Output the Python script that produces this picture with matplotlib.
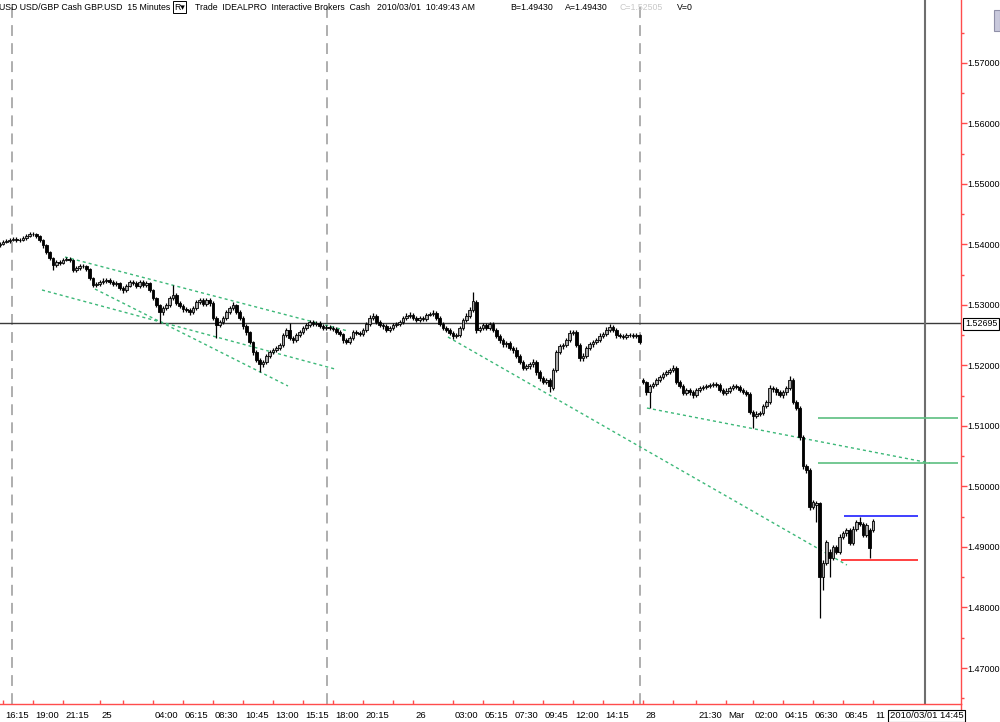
import numpy as np
import matplotlib
matplotlib.use("Agg")
import matplotlib.pyplot as plt
from matplotlib.patches import Rectangle
from matplotlib.lines import Line2D
from matplotlib.ticker import FormatStrFormatter

plt.rcParams['font.family'] = ['Liberation Sans', 'DejaVu Sans']

# GBP.USD 15 minute bars (bar index = position on the time axis)
opens = [
    1.5399, 1.5401, 1.5404, 1.5406, 1.5407, 1.5409, 1.5407, 1.5407, 1.5411, 1.5414,
    1.5417, 1.5417, 1.5414, 1.5407, 1.5399, 1.5387, 1.5378, 1.5366, 1.5371, 1.5369,
    1.5374, 1.5376, 1.5374, 1.5358, 1.5361, 1.5364, 1.5364, 1.5359, 1.5345, 1.5333,
    1.5335, 1.5338, 1.5340, 1.5341, 1.5338, 1.5335, 1.5336, 1.5328, 1.5325, 1.5331,
    1.5338, 1.5336, 1.5331, 1.5338, 1.5333, 1.5336, 1.5325, 1.5312, 1.5300, 1.5288,
    1.5295, 1.5300, 1.5312, 1.5317, 1.5303, 1.5298, 1.5293, 1.5292, 1.5288, 1.5295,
    1.5305, 1.5308, 1.5302, 1.5308, 1.5303, 1.5279, 1.5267, 1.5272, 1.5279, 1.5288,
    1.5295, 1.5300, 1.5288, 1.5279, 1.5265, 1.5255, 1.5239, 1.5222, 1.5209, 1.5202,
    1.5206, 1.5216, 1.5222, 1.5226, 1.5229, 1.5234, 1.5250, 1.5259, 1.5245, 1.5242,
    1.5250, 1.5255, 1.5262, 1.5267, 1.5272, 1.5269, 1.5270, 1.5265, 1.5262, 1.5264,
    1.5262, 1.5260, 1.5255, 1.5252, 1.5242, 1.5239, 1.5245, 1.5255, 1.5254, 1.5252,
    1.5259, 1.5269, 1.5279, 1.5282, 1.5272, 1.5267, 1.5265, 1.5259, 1.5262, 1.5267,
    1.5269, 1.5272, 1.5279, 1.5282, 1.5284, 1.5279, 1.5275, 1.5279, 1.5277, 1.5284,
    1.5285, 1.5287, 1.5279, 1.5269, 1.5262, 1.5259, 1.5254, 1.5249, 1.5250, 1.5262,
    1.5275, 1.5282, 1.5292, 1.5305, 1.5259, 1.5262, 1.5267, 1.5262, 1.5269, 1.5259,
    1.5249, 1.5242, 1.5235, 1.5237, 1.5229, 1.5226, 1.5216, 1.5206, 1.5196, 1.5199,
    1.5202, 1.5206, 1.5189, 1.5179, 1.5173, 1.5176, 1.5163, 1.5193, 1.5222, 1.5232,
    1.5234, 1.5242, 1.5254, 1.5255, 1.5234, 1.5212, 1.5216, 1.5229, 1.5235, 1.5239,
    1.5242, 1.5249, 1.5252, 1.5259, 1.5264, 1.5259, 1.5250, 1.5249, 1.5247, 1.5250,
    1.5250, 1.5249, 1.5250, 1.5176, 1.5173, 1.5156, 1.5166, 1.5169, 1.5176, 1.5181,
    1.5186, 1.5189, 1.5193, 1.5196, 1.5173, 1.5166, 1.5155, 1.5160, 1.5156, 1.5151,
    1.5160, 1.5163, 1.5164, 1.5166, 1.5168, 1.5169, 1.5168, 1.5160, 1.5155, 1.5158,
    1.5163, 1.5166, 1.5164, 1.5160, 1.5156, 1.5153, 1.5123, 1.5117, 1.5120, 1.5121,
    1.5133, 1.5140, 1.5163, 1.5161, 1.5156, 1.5151, 1.5156, 1.5163, 1.5176, 1.5140,
    1.5130, 1.5082, 1.5034, 1.5027, 1.4966, 1.4969, 1.4972, 1.4850, 1.4874, 1.4892,
    1.4882, 1.4900, 1.4892, 1.4917, 1.4923, 1.4928, 1.4907, 1.4930, 1.4941, 1.4938,
    1.4920, 1.4928, 1.4928,
]
highs = [
    1.5404, 1.5407, 1.5409, 1.5410, 1.5413, 1.5412, 1.5410, 1.5414, 1.5417, 1.5421,
    1.5420, 1.5419, 1.5416, 1.5409, 1.5401, 1.5390, 1.5380, 1.5374, 1.5374, 1.5377,
    1.5380, 1.5379, 1.5376, 1.5365, 1.5367, 1.5368, 1.5366, 1.5361, 1.5347, 1.5338,
    1.5341, 1.5344, 1.5345, 1.5344, 1.5341, 1.5339, 1.5338, 1.5331, 1.5334, 1.5342,
    1.5341, 1.5339, 1.5342, 1.5341, 1.5340, 1.5338, 1.5327, 1.5314, 1.5302, 1.5298,
    1.5303, 1.5315, 1.5333, 1.5319, 1.5306, 1.5301, 1.5297, 1.5295, 1.5298, 1.5309,
    1.5312, 1.5311, 1.5312, 1.5311, 1.5306, 1.5281, 1.5275, 1.5282, 1.5291, 1.5298,
    1.5305, 1.5302, 1.5291, 1.5281, 1.5268, 1.5257, 1.5241, 1.5225, 1.5212, 1.5209,
    1.5219, 1.5225, 1.5229, 1.5233, 1.5237, 1.5253, 1.5262, 1.5270, 1.5248, 1.5253,
    1.5258, 1.5265, 1.5270, 1.5275, 1.5276, 1.5274, 1.5273, 1.5268, 1.5267, 1.5267,
    1.5265, 1.5263, 1.5258, 1.5254, 1.5245, 1.5248, 1.5258, 1.5258, 1.5257, 1.5262,
    1.5272, 1.5283, 1.5286, 1.5285, 1.5275, 1.5270, 1.5268, 1.5265, 1.5270, 1.5272,
    1.5275, 1.5282, 1.5286, 1.5288, 1.5287, 1.5282, 1.5282, 1.5282, 1.5287, 1.5289,
    1.5292, 1.5290, 1.5281, 1.5272, 1.5265, 1.5262, 1.5257, 1.5254, 1.5265, 1.5278,
    1.5286, 1.5296, 1.5321, 1.5308, 1.5266, 1.5271, 1.5270, 1.5272, 1.5272, 1.5262,
    1.5252, 1.5245, 1.5241, 1.5240, 1.5233, 1.5230, 1.5219, 1.5209, 1.5203, 1.5206,
    1.5210, 1.5209, 1.5192, 1.5182, 1.5180, 1.5179, 1.5196, 1.5226, 1.5236, 1.5238,
    1.5246, 1.5258, 1.5259, 1.5258, 1.5237, 1.5220, 1.5232, 1.5239, 1.5242, 1.5246,
    1.5253, 1.5256, 1.5263, 1.5269, 1.5267, 1.5262, 1.5253, 1.5252, 1.5253, 1.5253,
    1.5253, 1.5253, 1.5252, 1.5179, 1.5175, 1.5169, 1.5172, 1.5179, 1.5184, 1.5189,
    1.5193, 1.5196, 1.5201, 1.5199, 1.5176, 1.5169, 1.5163, 1.5163, 1.5159, 1.5163,
    1.5166, 1.5168, 1.5170, 1.5171, 1.5173, 1.5172, 1.5171, 1.5163, 1.5162, 1.5166,
    1.5169, 1.5169, 1.5167, 1.5163, 1.5159, 1.5156, 1.5126, 1.5124, 1.5125, 1.5136,
    1.5143, 1.5167, 1.5166, 1.5164, 1.5159, 1.5159, 1.5166, 1.5183, 1.5179, 1.5143,
    1.5133, 1.5085, 1.5037, 1.5030, 1.4978, 1.4976, 1.4975, 1.4878, 1.4912, 1.4896,
    1.4904, 1.4904, 1.4921, 1.4927, 1.4932, 1.4931, 1.4934, 1.4945, 1.4950, 1.4941,
    1.4940, 1.4931, 1.4947,
]
lows = [
    1.5396, 1.5399, 1.5402, 1.5403, 1.5405, 1.5404, 1.5404, 1.5405, 1.5408, 1.5412,
    1.5414, 1.5411, 1.5404, 1.5395, 1.5384, 1.5374, 1.5358, 1.5363, 1.5366, 1.5367,
    1.5372, 1.5371, 1.5354, 1.5355, 1.5358, 1.5361, 1.5356, 1.5341, 1.5329, 1.5330,
    1.5332, 1.5335, 1.5337, 1.5335, 1.5331, 1.5331, 1.5324, 1.5320, 1.5322, 1.5329,
    1.5333, 1.5328, 1.5328, 1.5330, 1.5330, 1.5321, 1.5308, 1.5296, 1.5270, 1.5284,
    1.5291, 1.5297, 1.5309, 1.5300, 1.5295, 1.5289, 1.5288, 1.5284, 1.5285, 1.5292,
    1.5302, 1.5298, 1.5299, 1.5299, 1.5275, 1.5245, 1.5263, 1.5269, 1.5276, 1.5285,
    1.5292, 1.5285, 1.5275, 1.5261, 1.5251, 1.5235, 1.5218, 1.5205, 1.5189, 1.5198,
    1.5203, 1.5212, 1.5219, 1.5222, 1.5226, 1.5231, 1.5247, 1.5242, 1.5238, 1.5239,
    1.5247, 1.5252, 1.5259, 1.5264, 1.5266, 1.5266, 1.5262, 1.5259, 1.5259, 1.5258,
    1.5257, 1.5252, 1.5248, 1.5238, 1.5235, 1.5236, 1.5242, 1.5250, 1.5248, 1.5249,
    1.5256, 1.5266, 1.5276, 1.5269, 1.5263, 1.5261, 1.5256, 1.5256, 1.5259, 1.5264,
    1.5266, 1.5269, 1.5276, 1.5279, 1.5276, 1.5272, 1.5272, 1.5274, 1.5274, 1.5281,
    1.5282, 1.5276, 1.5265, 1.5258, 1.5255, 1.5250, 1.5244, 1.5245, 1.5247, 1.5259,
    1.5272, 1.5279, 1.5289, 1.5254, 1.5255, 1.5258, 1.5258, 1.5259, 1.5256, 1.5245,
    1.5238, 1.5231, 1.5231, 1.5225, 1.5221, 1.5212, 1.5202, 1.5192, 1.5192, 1.5195,
    1.5198, 1.5185, 1.5175, 1.5169, 1.5169, 1.5156, 1.5160, 1.5190, 1.5219, 1.5228,
    1.5230, 1.5239, 1.5250, 1.5230, 1.5208, 1.5208, 1.5213, 1.5226, 1.5231, 1.5236,
    1.5239, 1.5246, 1.5249, 1.5256, 1.5255, 1.5246, 1.5245, 1.5244, 1.5244, 1.5247,
    1.5245, 1.5246, 1.5235, 1.5170, 1.5152, 1.5130, 1.5163, 1.5166, 1.5173, 1.5178,
    1.5183, 1.5186, 1.5190, 1.5169, 1.5162, 1.5151, 1.5152, 1.5152, 1.5147, 1.5148,
    1.5157, 1.5160, 1.5161, 1.5163, 1.5165, 1.5165, 1.5157, 1.5151, 1.5152, 1.5155,
    1.5160, 1.5161, 1.5157, 1.5153, 1.5150, 1.5119, 1.5097, 1.5113, 1.5116, 1.5118,
    1.5130, 1.5137, 1.5157, 1.5152, 1.5148, 1.5147, 1.5152, 1.5160, 1.5136, 1.5126,
    1.5077, 1.5029, 1.5022, 1.4961, 1.4962, 1.4941, 1.4783, 1.4829, 1.4870, 1.4850,
    1.4878, 1.4888, 1.4889, 1.4913, 1.4919, 1.4903, 1.4904, 1.4926, 1.4934, 1.4916,
    1.4916, 1.4882, 1.4925,
]
closes = [
    1.5401, 1.5404, 1.5406, 1.5407, 1.5409, 1.5407, 1.5407, 1.5411, 1.5414, 1.5417,
    1.5417, 1.5414, 1.5407, 1.5399, 1.5387, 1.5378, 1.5366, 1.5371, 1.5369, 1.5374,
    1.5376, 1.5374, 1.5358, 1.5361, 1.5364, 1.5364, 1.5359, 1.5345, 1.5333, 1.5335,
    1.5338, 1.5340, 1.5341, 1.5338, 1.5335, 1.5336, 1.5328, 1.5325, 1.5331, 1.5338,
    1.5336, 1.5331, 1.5338, 1.5333, 1.5336, 1.5325, 1.5312, 1.5300, 1.5288, 1.5295,
    1.5300, 1.5312, 1.5317, 1.5303, 1.5298, 1.5293, 1.5292, 1.5288, 1.5295, 1.5305,
    1.5308, 1.5302, 1.5308, 1.5303, 1.5279, 1.5267, 1.5272, 1.5279, 1.5288, 1.5295,
    1.5300, 1.5288, 1.5279, 1.5265, 1.5255, 1.5239, 1.5222, 1.5209, 1.5202, 1.5206,
    1.5216, 1.5222, 1.5226, 1.5229, 1.5234, 1.5250, 1.5259, 1.5245, 1.5242, 1.5250,
    1.5255, 1.5262, 1.5267, 1.5272, 1.5269, 1.5270, 1.5265, 1.5262, 1.5264, 1.5262,
    1.5260, 1.5255, 1.5252, 1.5242, 1.5239, 1.5245, 1.5255, 1.5254, 1.5252, 1.5259,
    1.5269, 1.5279, 1.5282, 1.5272, 1.5267, 1.5265, 1.5259, 1.5262, 1.5267, 1.5269,
    1.5272, 1.5279, 1.5282, 1.5284, 1.5279, 1.5275, 1.5279, 1.5277, 1.5284, 1.5285,
    1.5287, 1.5279, 1.5269, 1.5262, 1.5259, 1.5254, 1.5249, 1.5250, 1.5262, 1.5275,
    1.5282, 1.5292, 1.5307, 1.5259, 1.5262, 1.5267, 1.5262, 1.5269, 1.5259, 1.5249,
    1.5242, 1.5235, 1.5237, 1.5229, 1.5226, 1.5216, 1.5206, 1.5196, 1.5199, 1.5202,
    1.5206, 1.5189, 1.5179, 1.5173, 1.5176, 1.5166, 1.5193, 1.5222, 1.5232, 1.5234,
    1.5242, 1.5254, 1.5255, 1.5234, 1.5212, 1.5216, 1.5229, 1.5235, 1.5239, 1.5242,
    1.5249, 1.5252, 1.5259, 1.5264, 1.5259, 1.5250, 1.5249, 1.5247, 1.5250, 1.5250,
    1.5249, 1.5250, 1.5239, 1.5173, 1.5156, 1.5166, 1.5169, 1.5176, 1.5181, 1.5186,
    1.5189, 1.5193, 1.5196, 1.5173, 1.5166, 1.5155, 1.5160, 1.5156, 1.5151, 1.5160,
    1.5163, 1.5164, 1.5166, 1.5168, 1.5169, 1.5168, 1.5160, 1.5155, 1.5158, 1.5163,
    1.5166, 1.5164, 1.5160, 1.5156, 1.5153, 1.5123, 1.5117, 1.5120, 1.5121, 1.5133,
    1.5140, 1.5163, 1.5161, 1.5156, 1.5151, 1.5156, 1.5163, 1.5176, 1.5140, 1.5130,
    1.5082, 1.5034, 1.5027, 1.4966, 1.4974, 1.4972, 1.4850, 1.4874, 1.4908, 1.4882,
    1.4900, 1.4892, 1.4917, 1.4923, 1.4928, 1.4907, 1.4930, 1.4941, 1.4938, 1.4920,
    1.4936, 1.4898, 1.4943,
]

# time axis
tick_pos = [1, 10, 19, 30, 37, 46, 55, 64, 73, 82, 91, 100, 109, 118, 124, 136, 145,
            154, 163, 172, 181, 190, 193, 202, 209, 218, 226, 235, 244, 253, 262]
tick_labels = ["16:15", "19:00", "21:15", "25", "", "04:00", "06:15", "08:30", "10:45",
               "13:00", "15:15", "18:00", "20:15", "", "26", "03:00", "05:15", "07:30",
               "09:45", "12:00", "14:15", "", "28", "", "21:30", "Mar", "02:00", "04:15",
               "06:30", "08:45", "11"]
session_breaks = [3.7, 98.2, 192.1]

# drawings on the chart: trend lines (bar index, price)
trend_lines = [
    [(19.6, 1.53793), (104.5, 1.52570)],
    [(12.7, 1.53248), (100.6, 1.51942)],
    [(28.6, 1.53264), (86.5, 1.51661)],
    [(134.5, 1.52471), (254.2, 1.48702)],
    [(194.2, 1.51297), (279.1, 1.50388)],
]
# horizontal levels: price, from bar, to bar, colour
levels = [
    (1.51137, 245.4, 287.5, '#5cbf80'),
    (1.50384, 245.4, 287.5, '#5cbf80'),
    (1.49512, 253.3, 275.4, '#1f1fff'),
    (1.48785, 252.4, 275.4, '#ff2020'),
]
cross_price = 1.52695
cross_bar = 277.6

W, H = 1000, 722
fig = plt.figure(figsize=(W / 100, H / 100), dpi=100)
ax = fig.add_axes([0, (H - 704) / H, 961 / W, 704 / H])

o = np.array(opens)
c = np.array(closes)
hi = np.array(highs)
lo = np.array(lows)
x = np.arange(len(c))
up = c >= o

ax.vlines(x, lo, hi, color='black', lw=0.9, zorder=4)
ax.bar(x[up], c[up] - o[up], bottom=o[up], width=0.8, color='#a8a8a8',
       edgecolor='black', linewidth=0.6, zorder=5)
ax.bar(x[~up], c[~up] - o[~up], bottom=o[~up], width=0.8, color='black',
       edgecolor='black', linewidth=0.6, zorder=5)

for b in session_breaks:
    ax.axvline(b, color='#a8a8a8', lw=1.3, ls=(0, (6, 4)), zorder=1)

ax.axhline(cross_price, color='#3a3a3a', lw=1.0, zorder=2)
ax.axvline(cross_bar, color='#6e6e6e', lw=1.5, zorder=2)

for (x0, y0), (x1, y1) in trend_lines:
    ax.plot([x0, x1], [y0, y1], color='#3cb878', lw=1.0, ls=(0, (2.2, 2.2)), zorder=3)
for p, x0, x1, col in levels:
    ax.hlines(p, x0, x1, color=col, lw=1.2, zorder=3)

ax.set_xlim(0.099, 288.43)
ax.set_ylim(1.46405, 1.58041)

for s in ['top', 'left']:
    ax.spines[s].set_visible(False)
for s in ['right', 'bottom']:
    ax.spines[s].set_color('#ff4c4c')
    ax.spines[s].set_linewidth(1.0)

ax.yaxis.tick_right()
ax.set_yticks(np.arange(1.47, 1.5701, 0.01))
ax.set_yticks(np.arange(1.465, 1.5801, 0.01), minor=True)
ax.yaxis.set_major_formatter(FormatStrFormatter('%.5f'))
ax.tick_params(axis='y', which='major', colors='#ff4c4c', labelcolor='black',
               labelsize=6.5, length=4, width=1, pad=0.8)
ax.tick_params(axis='y', which='minor', colors='#ff4c4c', length=2, width=1)

ax.set_xticks(tick_pos)
ax.set_xticklabels([])
ax.tick_params(axis='x', direction='in', length=3, width=1, colors='#ff4c4c')
for p, lbl in zip(tick_pos, tick_labels):
    if lbl:
        ax.annotate(lbl, xy=(p, 0), xycoords=('data', 'axes fraction'),
                    xytext=(1.5, -8.6), textcoords='offset points',
                    ha='left', va='center', fontsize=6.8, annotation_clip=False)

# red price scale line runs to the bottom edge
fig.add_artist(Line2D([961 / W, 961 / W], [0, (H - 704) / H], color='#ff4c4c', lw=1.0))


def fx(px):
    return px / W


def fy(py):
    return 1 - py / H


# header
fs = 6.3
fig.text(fx(-1), fy(7), "USD USD/GBP Cash GBP.USD  15 Minutes", fontsize=fs, va='center')
fig.text(fx(174), fy(7), "R\u25be", fontsize=fs, va='center',
         bbox=dict(boxstyle='square,pad=0.15', fc='white', ec='black', lw=0.7))
fig.text(fx(195), fy(7), "Trade  IDEALPRO  Interactive Brokers  Cash", fontsize=fs, va='center')
fig.text(fx(377), fy(7), "2010/03/01  10:49:43 AM", fontsize=fs, va='center')
fig.text(fx(510), fy(7), "B=1.49430", fontsize=fs, va='center')
fig.text(fx(565), fy(7), "A=1.49430", fontsize=fs, va='center')
fig.text(fx(620), fy(7), "C=1.52505", fontsize=fs, va='center', color='#c8c8c8')
fig.text(fx(677), fy(7), "V=0", fontsize=fs, va='center')

# scroll handle at the top right
fig.add_artist(Rectangle((fx(994), fy(31)), 6 / W, 21 / H, transform=fig.transFigure,
                         fc='#c9c9dc', ec='#9090a8', lw=0.8))

# crosshair value boxes
fig.text(fx(965), fy(324), "%.5f" % cross_price, fontsize=6.4, va='center', ha='left',
         bbox=dict(boxstyle='square,pad=0.18', fc='white', ec='black', lw=0.8), zorder=10)
fig.text(fx(890), fy(716), "2010/03/01 14:45", fontsize=6.8, va='center', ha='left',
         bbox=dict(boxstyle='square,pad=0.18', fc='white', ec='black', lw=0.8), zorder=10)

fig.savefig('out.png', dpi=100)
